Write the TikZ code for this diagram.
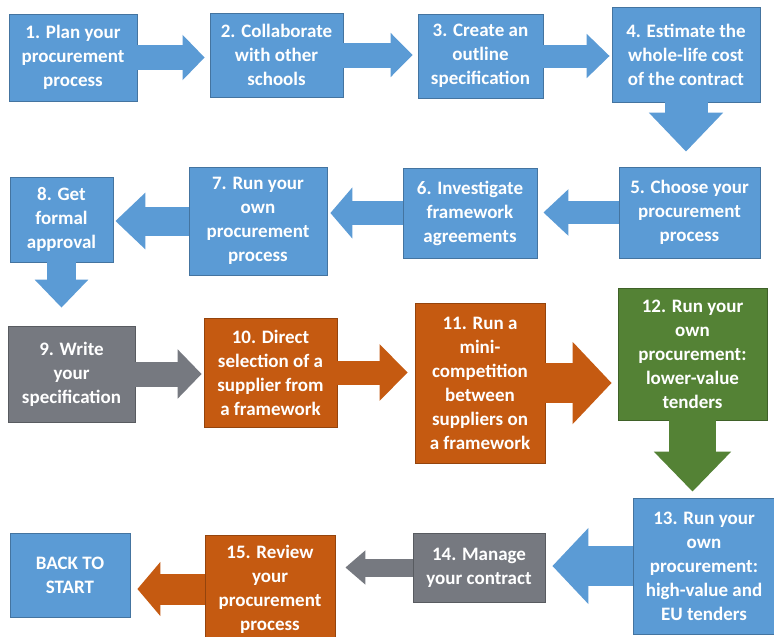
\documentclass[tikz,border=0pt]{standalone}
\usepackage{fontspec}
\setmainfont{Carlito}
\usepackage{tikz}
\usetikzlibrary{arrows.meta}
\definecolor{stepblue}{RGB}{91,155,213}
\definecolor{stepgrey}{RGB}{118,121,128}
\definecolor{steporange}{RGB}{197,90,17}
\definecolor{stepgreen}{RGB}{84,130,53}

\begin{document}
\begin{tikzpicture}[
  x=1pt,y=-1pt,
  box/.style={draw=#1!75!black,fill=#1,line width=0.8pt,inner sep=2pt,text=white,
              font=\fontsize{19}{24}\selectfont\bfseries,align=center},
  arr/.style n args={4}{draw=#1,line width=#2,-{Triangle[width=#3,length=#4]}}
]
\fill[white] (0,0) rectangle (774,637);
\useasboundingbox (0,0) rectangle (774,637);

% Row 1
\node[box=stepblue,minimum width=128pt,minimum height=87pt] (b1) at (73,57.5)
  {1. Plan your\\procurement\\process};
\node[box=stepblue,minimum width=133pt,minimum height=84pt] (b2) at (276.5,55)
  {2. Collaborate\\with other\\schools};
\node[box=stepblue,minimum width=125pt,minimum height=84pt] (b3) at (480.5,56)
  {3. Create an\\outline\\specification};
\node[box=stepblue,minimum width=148pt,minimum height=95pt] (b4) at (686,54.5)
  {4. Estimate the\\whole-life cost\\of the contract};

% Row 2
\node[box=stepblue,minimum width=141pt,minimum height=91pt] (b5) at (689.5,212.5)
  {5. Choose your\\procurement\\process};
\node[box=stepblue,minimum width=134pt,minimum height=90pt] (b6) at (470,213)
  {6. Investigate\\framework\\agreements};
\node[box=stepblue,minimum width=138pt,minimum height=108pt] (b7) at (258,221)
  {7. Run your\\own\\procurement\\process};
\node[box=stepblue,minimum width=103pt,minimum height=85pt] (b8) at (61.5,219.5)
  {8. Get\\formal\\approval};

% Row 3
\node[box=stepgrey,minimum width=127pt,minimum height=96pt] (b9) at (71.5,374)
  {9. Write\\your\\specification};
\node[box=steporange,minimum width=133pt,minimum height=109pt] (b10) at (270.5,372.5)
  {10. Direct\\selection of a\\supplier from\\a framework};
\node[box=steporange,minimum width=130pt,minimum height=160pt] (b11) at (480,383)
  {11. Run a\\mini-\\competition\\between\\suppliers on\\a framework};
\node[box=stepgreen,minimum width=149pt,minimum height=132pt] (b12) at (692.5,354)
  {12. Run your\\own\\procurement:\\lower-value\\tenders};

% Row 4
\node[box=stepblue,minimum width=142pt,minimum height=136pt] (b13) at (704,566)
  {13. Run your\\own\\procurement:\\high-value and\\EU tenders};
\node[box=stepgrey,minimum width=132pt,minimum height=69pt] (b14) at (479,567.5)
  {14. Manage\\your contract};
\node[box=steporange,minimum width=130pt,minimum height=108pt] (b15) at (270,589)
  {15. Review\\your\\procurement\\process};
\node[box=stepblue,minimum width=120pt,minimum height=84pt] (start) at (70,575)
  {BACK TO\\START};

% Arrows
\draw[arr={stepblue}{25pt}{44pt}{22pt},shorten >=5pt] (b1.east) -- (b1.east -| b2.west);
\draw[arr={stepblue}{25pt}{43pt}{22pt},shorten >=5pt] (b2.east) -- (b2.east -| b3.west);
\draw[arr={stepblue}{23pt}{43pt}{23pt},shorten >=2pt] (b3.east) -- (b3.east -| b4.west);
\draw[arr={stepblue}{43pt}{72pt}{39pt},shorten >=15pt] (b4.south) -- (b4.south |- b5.north);
\draw[arr={stepblue}{23pt}{45pt}{25pt},shorten >=6pt] (b5.west) -- (b5.west -| b6.east);
\draw[arr={stepblue}{24pt}{50pt}{22pt},shorten >=3pt] (b6.west) -- (b6.west -| b7.east);
\draw[arr={stepblue}{29pt}{55pt}{30pt},shorten >=2pt] (b7.west) -- (b7.west -| b8.east);
\draw[arr={stepblue}{29pt}{52pt}{28pt},shorten >=18pt] (b8.south) -- (b8.south |- b9.north);
\draw[arr={stepgrey}{25pt}{48pt}{24pt},shorten >=2pt] (b9.east) -- (b9.east -| b10.west);
\draw[arr={steporange}{24pt}{55pt}{28pt},shorten >=7pt] (b10.east) -- (b10.east -| b11.west);
\draw[arr={steporange}{40pt}{80pt}{39pt},shorten >=6pt] (b11.east) -- (b11.east -| b12.west);
\draw[arr={stepgreen}{47pt}{75pt}{40pt},shorten >=6pt] (b12.south) -- (b12.south |- b13.north);
\draw[arr={stepblue}{40pt}{74pt}{36pt},shorten >=7pt] (b13.west) -- (b13.west -| b14.east);
\draw[arr={stepgrey}{18pt}{33pt}{20pt},shorten >=10pt] (b14.west) -- (b14.west -| b15.east);
\draw[arr={steporange}{31pt}{53pt}{23pt},shorten >=7pt] (b15.west) -- (b15.west -| start.east);

\end{tikzpicture}
\end{document}
